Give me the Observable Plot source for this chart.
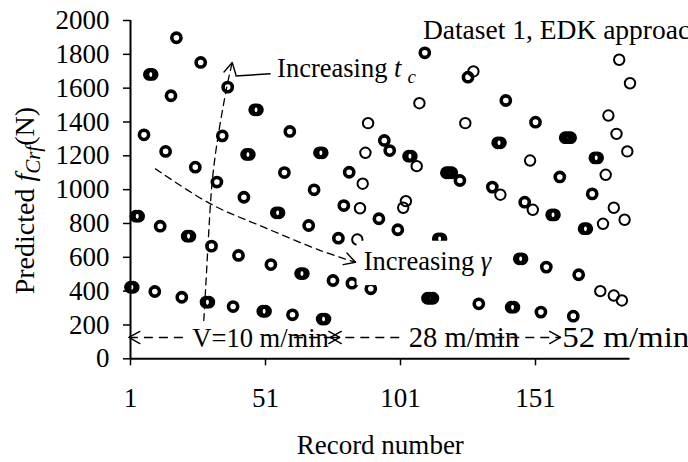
<!DOCTYPE html>
<html><head><meta charset="utf-8">
<script src="https://cdn.jsdelivr.net/npm/d3@7"></script>
<script src="https://cdn.jsdelivr.net/npm/@observablehq/plot@0.6"></script>
<style>html,body{margin:0;padding:0;background:#fff;}#chart{width:688px;height:462px;overflow:hidden;}</style>
</head><body><div id="chart"></div>
<script>
// ---- data ----
const boldRecords = [1,2,3,4,6,8,9,10,12,14,16,18,20,22,23,25,27,29,30,31,33,35,37,39,41,43,44,45,47,48,50,51,53,55,56,58,60,61,64,65,67,69,71,72,72,73,76,78,80,82,83,90,93,95,97,100,104,105,110,111,112,113,115,116,118,119,120,123,126,130,135,137,138,140,142,143,145,146,147,151,153,155,157,158,160,162,163,164,165,167,169,170,172,173,174];
const boldValues = [423,423,843,843,1324,1681,1681,398,784,1226,1555,1898,364,725,725,1133,1752,335,335,666,1045,1318,1606,309,611,955,1208,1208,1472,1472,281,281,557,863,863,1101,1344,260,504,504,788,999,1218,1218,235,235,463,713,906,1103,447,414,828,1291,1231,763,1198,1198,1809,358,358,358,709,709,1100,1100,1100,1054,1665,325,1015,1277,1277,1527,305,305,591,591,926,1399,276,542,851,851,1075,1307,1307,1307,252,497,769,769,975,1188,1188];
const thinRecords = [85,86,87,88,89,102,103,107,108,125,128,138,149,150,175,176,177,178,180,180,181,182,183,184,185,186];
const thinValues = [705,890,1035,1218,1393,893,932,1139,1511,1393,1699,970,1172,881,400,798,1088,1438,893,374,1330,1768,345,822,1226,1629];
const xTicks = [1, 51, 101, 151];
const yTicks = [0,200,400,600,800,1000,1200,1400,1600,1800,2000];
const xTitle = "Record number";
const yTitle = "Predicted f_Crf (N)";

// ---- annotations (in data units) ----
const annLabels = ["Dataset 1, EDK approach", "Increasing t_c", "Increasing γ", "V=10 m/min", "28 m/min", "52 m/min"];
const annRecords = [109.3, 55.3, 87.4, 23.9, 104.1, 160.9];
const annValues = [1945, 1714, 575, 122, 122, 122];
const annSizes = [27.5, 26.5, 26.5, 26.5, 28.5, 28.5];
const tcRecords = [28.15, 28.78, 30.63, 31.37, 33.04, 36.56, 38.67];
const tcValues = [226, 404, 919, 1066, 1275, 1598, 1752];
const gammaRecords = [10.26, 30.63, 50.37, 71.37, 84.33];
const gammaValues = [1123, 916, 778, 640, 571];
const speedFrom = [0.4, 75];
const speedTo = [78.5, 160.3];
const speedValue = 126;
const headRecords = [0.4, 78.5, 75, 160.3, 84.33, 38.67];
const headValues = [126, 126, 126, 126, 571, 1752];
const headAngles = [-90, 90, -90, 90, 108, 12];
const leaderX = [52.9, 39.8];
const leaderY = [1685, 1672];
const maskX1 = [84.9, 22.1, 102.5];
const maskX2 = [141.7, 59.5, 134];
const maskY1 = [433, 61, 61];
const maskY2 = [695, 179, 179];

const bold = boldRecords.map((r, i) => ({record: r, value: boldValues[i]}));
const thin = thinRecords.map((r, i) => ({record: r, value: thinValues[i]}));
const ann = annLabels.map((t, i) => ({t, record: annRecords[i], value: annValues[i], size: annSizes[i]}));
const tc = tcRecords.map((r, i) => ({record: r, value: tcValues[i]}));
const gam = gammaRecords.map((r, i) => ({record: r, value: gammaValues[i]}));
const segs = speedFrom.map((a, i) => ({a, b: speedTo[i]}));
const heads = headRecords.map((r, i) => ({record: r, value: headValues[i], angle: headAngles[i]}));
const masks = maskX1.map((a, i) => ({x1: a, x2: maskX2[i], y1: maskY1[i], y2: maskY2[i]}));
const gammaMask = [masks[0]], speedMasks = masks.slice(1);

// open chevron arrowhead, tip at the anchor
const chevron = {draw(ctx, l) { const w = l * 0.55; ctx.moveTo(-w, l); ctx.lineTo(0, 0); ctx.lineTo(w, l); }};

const FF = "Liberation Serif";
const FS = 27;
const chart = Plot.plot({
  width: 688, height: 462,
  marginLeft: 130, marginRight: 58.5, marginTop: 20, marginBottom: 103.7,
  style: {fontFamily: "'Liberation Serif','Times New Roman',serif", fontSize: FS + "px", color: "black", background: "white"},
  x: {domain: [1, 186]},
  y: {domain: [0, 2000]},
  marks: [
    Plot.axisY({ticks: yTicks, tickSize: 7, tickPadding: 14, tickFormat: d => String(d), label: null, fontSize: FS, fontFamily: FF, strokeWidth: 1.5}),
    Plot.axisX({ticks: xTicks, tickSize: 7, tickPadding: 22, tickFormat: d => String(d), label: null, fontSize: FS, fontFamily: FF, strokeWidth: 1.5}),
    Plot.ruleY([0], {strokeWidth: 2}),
    Plot.ruleX([1], {strokeWidth: 2}),
    Plot.line(tc, {x: "record", y: "value", curve: "catmull-rom", strokeDasharray: "7,5", strokeWidth: 1.3}),
    Plot.line(gam, {x: "record", y: "value", curve: "catmull-rom", strokeDasharray: "7,5", strokeWidth: 1.3}),
    Plot.link(segs, {x1: "a", x2: "b", y1: () => speedValue, y2: () => speedValue, strokeDasharray: "9,6", strokeWidth: 1.3}),
    Plot.rect(speedMasks, {x1: "x1", x2: "x2", y1: "y1", y2: "y2", fill: "white"}),
    Plot.dot(bold, {x: "record", y: "value", r: 4.6, stroke: "black", fill: "none", strokeWidth: 3.6}),
    Plot.dot(thin, {x: "record", y: "value", r: 5.2, stroke: "black", fill: "none", strokeWidth: 2}),
    Plot.rect(gammaMask, {x1: "x1", x2: "x2", y1: "y1", y2: "y2", fill: "white"}),
    Plot.link([0], {x1: () => leaderX[0], x2: () => leaderX[1], y1: () => leaderY[0], y2: () => leaderY[1], strokeWidth: 1.5}),
    Plot.vector(heads, {x: "record", y: "value", rotate: "angle", length: 11, anchor: "start", shape: chevron, stroke: "black", strokeWidth: 1.4}),
    Plot.text(ann, {x: "record", y: "value", text: "t", fontSize: "size", textAnchor: "start", lineAnchor: "middle", fontFamily: FF, fill: "black"}),
    Plot.text([yTitle], {text: d => d, frameAnchor: "left", rotate: -90, dx: -105, dy: 11, textAnchor: "middle", lineAnchor: "middle", fontSize: 28, fontFamily: FF, fill: "black"}),
    Plot.text([xTitle], {text: d => d, frameAnchor: "bottom", dy: 86.7, textAnchor: "middle", lineAnchor: "middle", fontSize: FS, fontFamily: FF, fill: "black"})
  ]
});
document.getElementById("chart").append(chart);

// rich text (italics / subscripts) and width of the clipped speed label
function richify(placeholder, build) {
  d3.select(chart).selectAll("text").filter(function() { return this.textContent === placeholder; })
    .each(function() { const t = d3.select(this); t.text(""); build(t); });
}
richify("Increasing t_c", t => {
  t.append("tspan").text("Increasing ");
  t.append("tspan").attr("font-style", "italic").text("t");
  t.append("tspan").attr("font-style", "italic").attr("font-size", "0.72em").attr("dx", "6").attr("dy", "6").text("c");
});
richify("Increasing γ", t => {
  t.append("tspan").text("Increasing ");
  t.append("tspan").attr("font-style", "italic").text("γ");
});
richify(yTitle, t => {
  t.append("tspan").text("Predicted ");
  t.append("tspan").attr("font-style", "italic").text("f");
  t.append("tspan").attr("font-style", "italic").attr("font-size", "0.75em").attr("dy", "6").text("Crf");
  t.append("tspan").attr("dy", "-6").text("(N)");
});
d3.select(chart).selectAll("text").filter(function() { return this.textContent === "52 m/min"; })
  .attr("textLength", 127).attr("lengthAdjust", "spacingAndGlyphs");
d3.select(chart).selectAll("text").attr("font-family", FF);
</script></body></html>
